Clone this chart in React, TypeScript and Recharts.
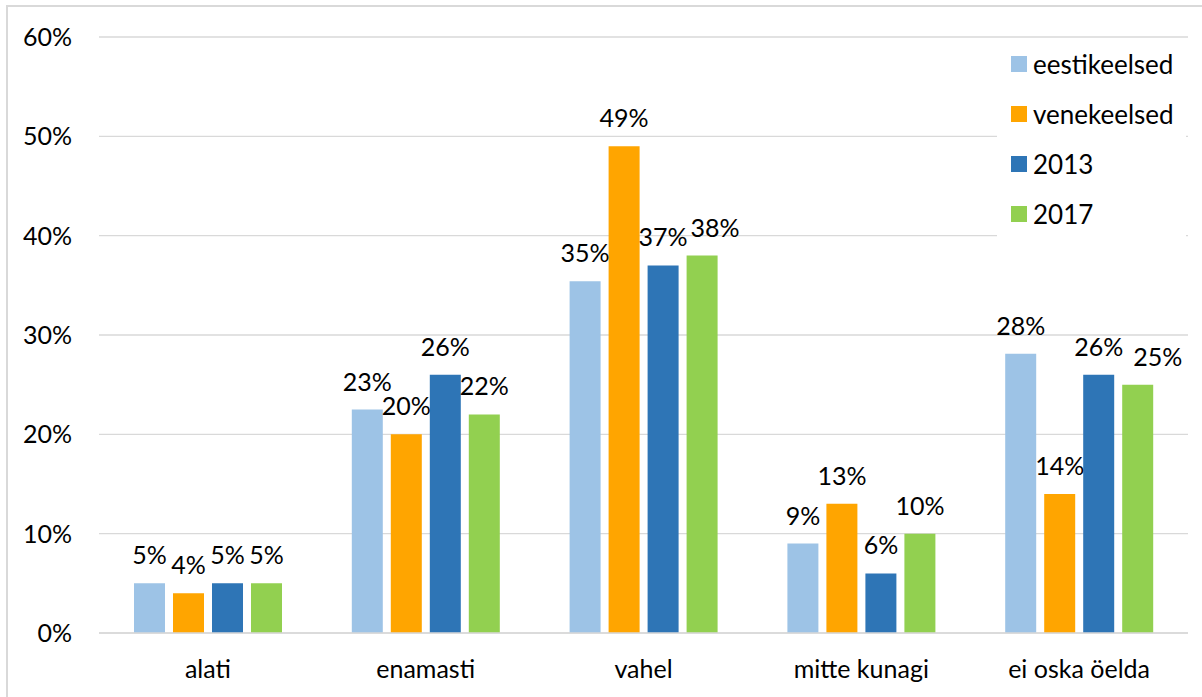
import { BarChart, Bar, XAxis, YAxis, CartesianGrid, Legend, LabelList } from "recharts";

const categories = ["alati", "enamasti", "vahel", "mitte kunagi", "ei oska öelda"];
const eestikeelsed = [5, 22.5, 35.4, 9, 28.1];
const venekeelsed = [4, 20, 49, 13, 14];
const y2013 = [5, 26, 37, 6, 26];
const y2017 = [5, 22, 38, 10, 25];
const yTicks = [0, 10, 20, 30, 40, 50, 60];

const series = [
  { key: "eestikeelsed", name: "eestikeelsed", color: "#9DC3E6" },
  { key: "venekeelsed", name: "venekeelsed", color: "#FFA500" },
  { key: "y2013", name: "2013", color: "#2E75B6" },
  { key: "y2017", name: "2017", color: "#92D050" },
];

const data = categories.map((c, i) => ({
  name: c,
  eestikeelsed: eestikeelsed[i],
  venekeelsed: venekeelsed[i],
  y2013: y2013[i],
  y2017: y2017[i],
}));

// labels that the original nudged sideways to keep clear of a neighbour
const labelNudge: Record<string, number> = {
  "y2017-2": 13,
  "y2017-4": 20,
};

const FONT = "Lato, 'DejaVu Sans', sans-serif";
const FS = 25;

const makeLabel = (key: string) => (props: any) => {
  const { x, y, width, value, index } = props;
  const dx = labelNudge[`${key}-${index}`] || 0;
  return (
    <text
      x={Number(x) + Number(width) / 2 + dx}
      y={Number(y) - 19}
      textAnchor="middle"
      fill="#000"
      fontSize={FS}
      fontFamily={FONT}
    >
      {`${Math.round(Number(value))}%`}
    </text>
  );
};

// legend box is drawn overflowing a zero-size wrapper so it doesn't shrink the plot
const renderLegend = () => (
  <div
    style={{
      position: "absolute",
      left: 0,
      top: 0,
      background: "#fff",
      width: 189,
      height: 200,
      fontFamily: FONT,
      fontSize: 26,
      color: "#000",
    }}
  >
    {series.map((s) => (
      <div key={s.key} style={{ display: "flex", alignItems: "center", height: 50 }}>
        <span style={{ display: "inline-block", width: 16, height: 16, background: s.color, marginLeft: 14, marginRight: 6 }} />
        <span style={{ lineHeight: 1 }}>{s.name}</span>
      </div>
    ))}
  </div>
);

export default function App() {
  return (
    <div style={{ position: "absolute", left: 0, top: 0, width: 1202, height: 697, overflow: "hidden", background: "#fff" }}>
      <div style={{ position: "absolute", left: 6, top: 5, width: 1300, height: 800, border: "2px solid #d9d9d9" }} />
      <div style={{ position: "absolute", left: 0, top: 0 }}>
        <BarChart
          width={1202}
          height={697}
          data={data}
          margin={{ top: 37, right: 14, left: 0, bottom: 0 }}
          barSize={31}
          barGap={8}
        >
          <CartesianGrid vertical={false} stroke="#d9d9d9" strokeWidth={1.3} />
          <XAxis
            dataKey="name"
            height={64}
            tickLine={false}
            tickSize={0}
            tickMargin={27}
            axisLine={{ stroke: "#d9d9d9", strokeWidth: 1.5 }}
            tick={{ fill: "#000", fontSize: FS, fontFamily: FONT }}
          />
          <YAxis
            width={99}
            domain={[0, 60]}
            ticks={yTicks}
            interval={0}
            axisLine={false}
            tickLine={false}
            tickSize={0}
            tickMargin={27}
            tickFormatter={(v: number) => `${v}%`}
            tick={{ fill: "#000", fontSize: FS, fontFamily: FONT }}
          />
          <Legend
            content={renderLegend}
            wrapperStyle={{ position: "absolute", top: 39, left: 997, width: 0, height: 0, overflow: "visible" }}
          />
          {series.map((s) => (
            <Bar key={s.key} dataKey={s.key} name={s.name} fill={s.color} isAnimationActive={false}>
              <LabelList dataKey={s.key} content={makeLabel(s.key)} />
            </Bar>
          ))}
        </BarChart>
      </div>
    </div>
  );
}
